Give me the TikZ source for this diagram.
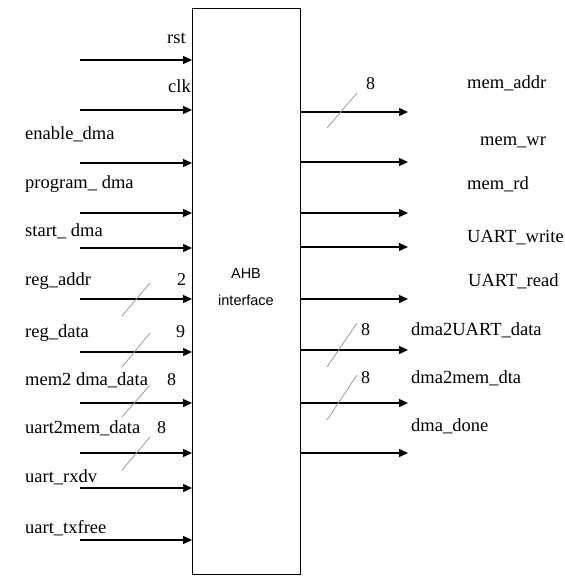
\documentclass[tikz,border=0pt]{standalone}
\usepackage{fontspec}
\setmainfont{Liberation Serif}
\setsansfont{Liberation Sans}
\usetikzlibrary{arrows.meta}
\begin{document}
\begin{tikzpicture}[x=1pt,y=-1pt,
  sig/.style={line width=1.4pt, -{Triangle[length=9pt,width=8pt]}},
  bus/.style={draw=gray!80, line width=0.8pt},
  lbl/.style={anchor=base west, inner sep=0pt, font=\fontsize{18.5}{20}\selectfont},
  num/.style={anchor=base west, inner sep=0pt, font=\fontsize{18}{20}\selectfont}]
\useasboundingbox (0,0) rectangle (565,576);
\node[draw, line width=1.2pt, minimum width=108pt, minimum height=566pt, inner sep=0pt, anchor=north west] (box) at (192,8) {};
\node[font=\sffamily\fontsize{14.5}{16}\selectfont, anchor=base, inner sep=0pt] (ahb) at (246,278) {AHB};
\node[font=\sffamily\fontsize{14.5}{16}\selectfont, anchor=base, inner sep=0pt] (intf) at (246,305) {interface};

% left inputs
\foreach \n/\y in {a/60,b/110,c/163,d/213,e/248,f/299,g/352,h/403,i/453,j/488,k/540}{
  \coordinate (in\n) at (80,\y);
  \draw[sig] (in\n) -- (box.west |- in\n);
}
\node[lbl] (lrst) at (167,43) {rst};
\node[lbl] (lclk) at (168,92) {clk};
\node[lbl] (len) at (25,139) {enable\_dma};
\node[lbl] (lprog) at (25,188) {program\_ dma};
\node[lbl] (lstart) at (25,236) {start\_ dma};
\node[lbl] (lra) at (25,285) {reg\_addr};
\node[lbl] (lrd) at (25,337) {reg\_data};
\node[lbl] (lm2d) at (25,385) {mem2 dma\_data};
\node[lbl] (lu2m) at (25,433) {uart2mem\_data};
\node[lbl] (lrx) at (25,482) {uart\_rxdv};
\node[lbl] (ltx) at (25,533) {uart\_txfree};
\node[num] (n2) at (177,285) {2};
\node[num] (n9) at (176,337) {9};
\node[num] (n8a) at (167,385) {8};
\node[num] (n8b) at (157,433) {8};
\coordinate (s1a) at (122,316); \coordinate (s1b) at (150,283);
\coordinate (s2a) at (122,367); \coordinate (s2b) at (150,333);
\coordinate (s3a) at (122,417); \coordinate (s3b) at (150,385);
\coordinate (s4a) at (122,470); \coordinate (s4b) at (150,437);
\draw[bus] (s1a) -- (s1b);
\draw[bus] (s2a) -- (s2b);
\draw[bus] (s3a) -- (s3b);
\draw[bus] (s4a) -- (s4b);

% right outputs
\foreach \n/\y in {a/112,b/162,c/213,d/247,e/299,f/350,g/403,h/453}{
  \coordinate (out\n) at (408,\y);
  \draw[sig] (box.east |- out\n) -- (out\n);
}
\node[lbl] (lma) at (467,88) {mem\_addr};
\node[lbl] (lmw) at (480,145) {mem\_wr};
\node[lbl] (lmr) at (467,189) {mem\_rd};
\node[lbl] (luw) at (467,242) {UART\_write};
\node[lbl] (lur) at (468,286) {UART\_read};
\node[lbl] (ldu) at (411,335) {dma2UART\_data};
\node[lbl] (ldm) at (411,383) {dma2mem\_dta};
\node[lbl] (ldd) at (411,431) {dma\_done};
\node[num] (r8a) at (366,89) {8};
\node[num] (r8b) at (361,335) {8};
\node[num] (r8c) at (361,383) {8};
\coordinate (t1a) at (327,128); \coordinate (t1b) at (357,93);
\coordinate (t2a) at (327,367); \coordinate (t2b) at (357,323);
\coordinate (t3a) at (327,420); \coordinate (t3b) at (357,375);
\draw[bus] (t1a) -- (t1b);
\draw[bus] (t2a) -- (t2b);
\draw[bus] (t3a) -- (t3b);
\end{tikzpicture}
\end{document}
